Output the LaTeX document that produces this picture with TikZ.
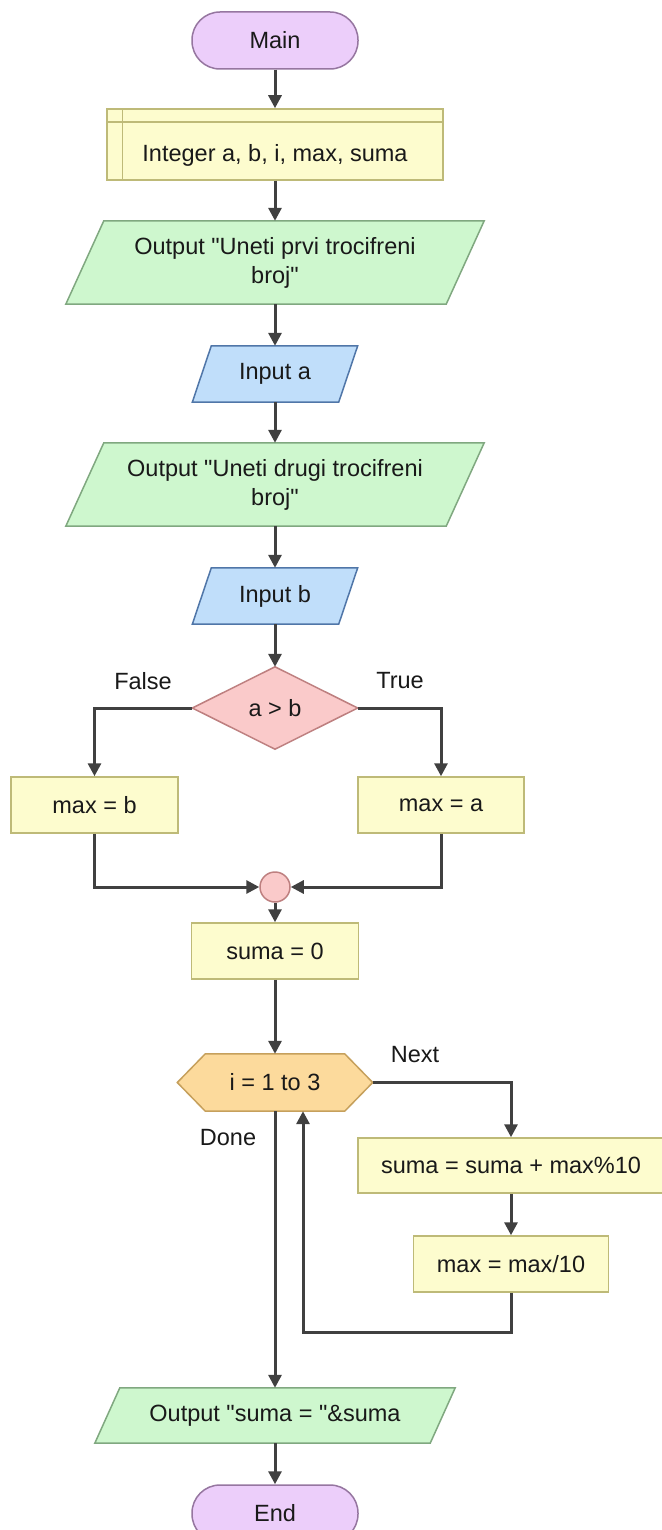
\documentclass[tikz,border=0pt]{standalone}
\usepackage{fontspec}
\setmainfont{Liberation Sans}
% same face without the TeX quote mapping, so " stays straight
\newfontfamily\flowfont{Liberation Sans}
\usetikzlibrary{arrows.meta,backgrounds}

% palette
\definecolor{termfill}{RGB}{236,206,250}
\definecolor{termedge}{RGB}{150,118,160}
\definecolor{procfill}{RGB}{253,252,206}
\definecolor{procedge}{RGB}{190,186,120}
\definecolor{outfill}{RGB}{206,247,206}
\definecolor{outedge}{RGB}{128,168,128}
\definecolor{infill}{RGB}{192,222,250}
\definecolor{inedge}{RGB}{80,118,168}
\definecolor{decfill}{RGB}{250,202,202}
\definecolor{decedge}{RGB}{190,128,128}
\definecolor{loopfill}{RGB}{252,218,156}
\definecolor{loopedge}{RGB}{198,160,92}
\definecolor{flowgray}{RGB}{64,64,64}

\tikzset{
  base/.style={font=\flowfont\fontsize{23.5pt}{29pt}\selectfont, inner sep=0pt, align=center, text=black!90},
  terminal/.style={base, rectangle, rounded corners=28pt, draw=termedge, fill=termfill,
    line width=1.5pt, minimum width=166pt, minimum height=57pt},
  process/.style={base, rectangle, draw=procedge, fill=procfill, line width=1.5pt,
    minimum height=56pt},
  outshape/.style={draw=outedge, fill=outfill, line width=1.5pt},
  inshape/.style={draw=inedge, fill=infill, line width=1.5pt},
  decshape/.style={draw=decedge, fill=decfill, line width=1.5pt},
  loopshape/.style={draw=loopedge, fill=loopfill, line width=1.5pt},
  lbl/.style={base},
  flow/.style={draw=flowgray, line width=3pt, -{Triangle[length=13pt,width=13pt]}}
}

\begin{document}
\begin{tikzpicture}[x=1pt,y=-1pt]
\useasboundingbox (0,0) rectangle (661,1530);

% nodes
\node[terminal] (main) at (275,40.5) {Main};
\node[process, minimum width=336pt, minimum height=71pt, text height=39pt, text depth=5pt]
  (decl) at (275,144.5) {Integer a, b, i, max, suma};
\node[base, minimum width=418pt, minimum height=83pt] (out1) at (275,262.5)
  {Output "Uneti prvi trocifreni\\broj"};
\node[base, minimum width=165pt, minimum height=56pt] (inA) at (275,374) {Input a};
\node[base, minimum width=418pt, minimum height=83pt] (out2) at (275,484.5)
  {Output "Uneti drugi trocifreni\\broj"};
\node[base, minimum width=165pt, minimum height=56pt] (inB) at (275,596) {Input b};
\node[base, minimum width=165pt, minimum height=82pt] (dec) at (275,708) {a > b};
\node[lbl] (lf) at (143,681) {False};
\node[lbl] (lt) at (400,681) {True};
\node[process, minimum width=167pt] (maxb) at (94.5,805) {max = b};
\node[process, minimum width=166pt] (maxa) at (441,805) {max = a};
\node[circle, draw=decedge, fill=decfill, line width=1.5pt, minimum size=30pt, inner sep=0pt]
  (join) at (275,887) {};
\node[process, minimum width=167pt] (s0) at (275,951) {suma = 0};
\node[base, minimum width=195pt, minimum height=57pt] (loop) at (275,1082.5) {i = 1 to 3};
\node[lbl] (lnext) at (415,1055) {Next};
\node[lbl] (ldone) at (228,1138) {Done};
\node[process, minimum width=306pt, minimum height=55pt] (b1) at (511,1165.5)
  {suma = suma + max\%10};
\node[process, minimum width=195pt] (b2) at (511,1264) {max = max/10};
\node[base, minimum width=360pt, minimum height=55pt] (outS) at (275,1415.5)
  {Output "suma = "\&suma};
\node[terminal] (end) at (275,1513.5) {End};

% header strip of the declaration box
\draw[procedge, line width=1.5pt] ([xshift=16pt]decl.north west) -- ([xshift=16pt]decl.south west);
\draw[procedge, line width=1.5pt] ([yshift=-14pt]decl.north west) -- ([yshift=-14pt]decl.north east);

% outlines of the slanted, diamond and hexagon shapes
\begin{scope}[on background layer]
  \fill[white] (0,0) rectangle (661,1530);
  \path[outshape] ([xshift=38pt]out1.north west) -- (out1.north east)
    -- ([xshift=-38pt]out1.south east) -- (out1.south west) -- cycle;
  \path[outshape] ([xshift=38pt]out2.north west) -- (out2.north east)
    -- ([xshift=-38pt]out2.south east) -- (out2.south west) -- cycle;
  \path[outshape] ([xshift=25pt]outS.north west) -- (outS.north east)
    -- ([xshift=-25pt]outS.south east) -- (outS.south west) -- cycle;
  \path[inshape] ([xshift=19pt]inA.north west) -- (inA.north east)
    -- ([xshift=-19pt]inA.south east) -- (inA.south west) -- cycle;
  \path[inshape] ([xshift=19pt]inB.north west) -- (inB.north east)
    -- ([xshift=-19pt]inB.south east) -- (inB.south west) -- cycle;
  \path[decshape] (dec.west) -- (dec.north) -- (dec.east) -- (dec.south) -- cycle;
  \path[loopshape] (loop.west) -- ([xshift=28pt]loop.north west) -- ([xshift=-28pt]loop.north east)
    -- (loop.east) -- ([xshift=-28pt]loop.south east) -- ([xshift=28pt]loop.south west) -- cycle;
\end{scope}

% connectors
\draw[flow] (main) -- (decl);
\draw[flow] (decl) -- (out1);
\draw[flow] (out1) -- (inA);
\draw[flow] (inA) -- (out2);
\draw[flow] (out2) -- (inB);
\draw[flow] (inB) -- (dec);
\draw[flow] (dec.west) -| (maxb.north);
\draw[flow] (dec.east) -| (maxa.north);
\draw[flow] (maxb.south) |- (join.west);
\draw[flow] (maxa.south) |- (join.east);
\draw[flow] (join) -- (s0);
\draw[flow] (s0) -- (loop);
\draw[flow] (loop.east) -| (b1.north);
\draw[flow] (b1) -- (b2);
\coordinate (back) at (303,1332);
\draw[flow] (b2.south) |- (back) -- (back |- loop.south);
\draw[flow] (loop) -- (outS);
\draw[flow] (outS) -- (end);
\end{tikzpicture}
\end{document}
